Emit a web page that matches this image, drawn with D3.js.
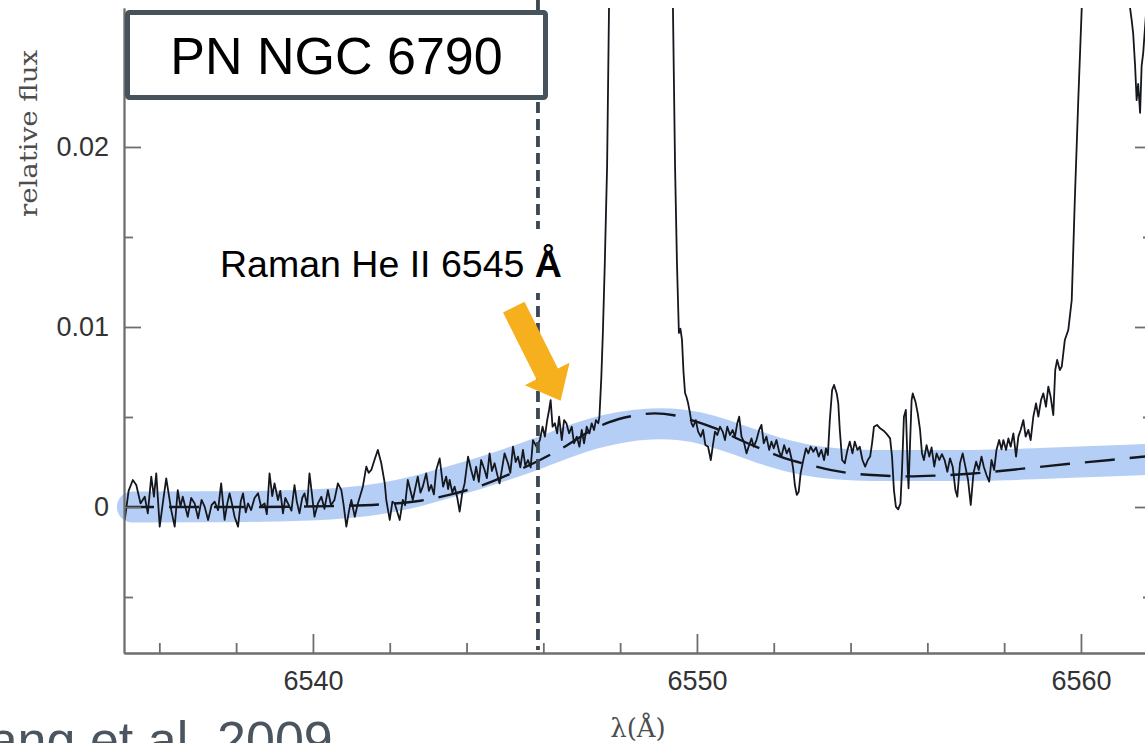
<!DOCTYPE html>
<html>
<head>
<meta charset="utf-8">
<script src="https://cdn.jsdelivr.net/npm/d3@7"></script>
<style>
  html, body { margin: 0; padding: 0; background: #fff; overflow: hidden; }
  svg { display: block; }
</style>
</head>
<body>
<svg id="chart" width="1145" height="743"></svg>
<script>
// ---- data: wavelength in Å, flux in units of 1e-3 (relative) ----
const specLambda = [
  6535.10,6535.20,6535.31,6535.40,6535.51,6535.62,6535.70,6535.79,6535.86,6535.92,
  6536.01,6536.09,6536.18,6536.31,6536.40,6536.48,6536.55,6536.61,6536.74,6536.83,
  6536.92,6537.01,6537.10,6537.18,6537.27,6537.36,6537.44,6537.53,6537.61,6537.70,
  6537.77,6537.83,6537.90,6537.96,6538.05,6538.12,6538.18,6538.25,6538.31,6538.39,
  6538.48,6538.57,6538.65,6538.74,6538.80,6538.87,6538.94,6539.00,6539.09,6539.15,
  6539.22,6539.28,6539.35,6539.44,6539.52,6539.58,6539.65,6539.72,6539.78,6539.85,
  6539.91,6539.98,6540.04,6540.13,6540.22,6540.30,6540.39,6540.47,6540.56,6540.65,
  6540.74,6540.80,6540.87,6540.94,6541.00,6541.09,6541.17,6541.30,6541.39,6541.45,
  6541.52,6541.60,6541.69,6541.78,6541.87,6541.91,6542.00,6542.07,6542.13,6542.20,
  6542.26,6542.34,6542.40,6542.47,6542.54,6542.60,6542.67,6542.73,6542.80,6542.86,
  6542.95,6543.02,6543.08,6543.15,6543.21,6543.30,6543.39,6543.47,6543.52,6543.56,
  6543.63,6543.69,6543.76,6543.82,6543.89,6543.95,6544.04,6544.12,6544.19,6544.25,
  6544.32,6544.38,6544.47,6544.53,6544.60,6544.66,6544.73,6544.80,6544.86,6544.93,
  6544.99,6545.08,6545.14,6545.21,6545.28,6545.34,6545.40,6545.47,6545.53,6545.60,
  6545.67,6545.73,6545.82,6545.91,6545.98,6546.04,6546.10,6546.15,6546.19,6546.24,
  6546.30,6546.36,6546.41,6546.48,6546.54,6546.60,6546.67,6546.74,6546.80,6546.87,
  6546.94,6547.00,6547.06,6547.13,6547.20,6547.26,6547.32,6547.37,6547.43,6547.46,
  6547.51,6547.55,6547.60,6547.66,6547.71,6547.80,6548.55,6549.30,6549.375,6549.43,
  6549.48,6549.53,6549.57,6549.61,6549.65,6549.69,6549.73,6549.77,6549.82,6549.86,
  6549.90,6549.97,6550.03,6550.10,6550.16,6550.22,6550.29,6550.36,6550.41,6550.47,
  6550.53,6550.60,6550.67,6550.73,6550.79,6550.86,6550.93,6550.99,6551.05,6551.10,
  6551.16,6551.22,6551.29,6551.36,6551.42,6551.48,6551.55,6551.62,6551.68,6551.74,
  6551.81,6551.88,6551.94,6552.00,6552.07,6552.14,6552.20,6552.27,6552.34,6552.40,
  6552.47,6552.51,6552.55,6552.60,6552.65,6552.70,6552.77,6552.84,6552.90,6552.96,
  6553.03,6553.10,6553.17,6553.24,6553.31,6553.36,6553.41,6553.46,6553.52,6553.57,
  6553.64,6553.68,6553.72,6553.78,6553.85,6553.92,6553.98,6554.05,6554.11,6554.18,
  6554.24,6554.31,6554.38,6554.45,6554.51,6554.56,6554.61,6554.69,6554.77,6554.86,
  6554.94,6555.03,6555.08,6555.13,6555.18,6555.24,6555.30,6555.34,6555.39,6555.44,
  6555.49,6555.51,6555.55,6555.59,6555.62,6555.69,6555.75,6555.81,6555.86,6555.91,
  6555.98,6556.05,6556.11,6556.18,6556.24,6556.31,6556.38,6556.45,6556.52,6556.59,
  6556.66,6556.73,6556.78,6556.85,6556.92,6556.99,6557.06,6557.13,6557.20,6557.27,
  6557.34,6557.41,6557.47,6557.54,6557.61,6557.67,6557.74,6557.80,6557.87,6557.93,
  6557.98,6558.05,6558.11,6558.17,6558.24,6558.31,6558.37,6558.43,6558.50,6558.56,
  6558.63,6558.69,6558.76,6558.83,6558.89,6558.96,6559.02,6559.09,6559.15,6559.21,
  6559.28,6559.33,6559.38,6559.45,6559.50,6559.58,6559.67,6559.76,6559.84,6559.93,
  6560.02,6560.10,6560.80,6561.20,6561.28,6561.32,6561.36,6561.41,6561.45,6561.49,
  6561.54,6561.58,6561.62,6561.85
];
const specFlux = [
  -0.72,0.90,1.50,1.22,0.20,0.57,-0.35,1.69,0.57,1.87,
  -1.09,0.20,1.59,-0.17,-1.09,0.94,0.02,0.57,-0.54,0.50,
  0.20,-0.63,0.40,0.02,-0.72,0.10,0.30,-0.17,1.31,-0.72,
  0.20,0.76,0.10,-0.54,-1.09,0.30,0.76,-0.30,0.20,-0.17,
  0.50,0.76,0.02,0.20,-0.40,1.87,0.60,1.31,0.39,0.90,
  -0.35,0.50,0.20,-0.20,1.22,0.30,-0.35,0.50,0.76,0.10,
  1.87,0.60,-0.54,0.20,0.57,-0.10,0.94,0.10,0.39,1.31,
  0.94,0.10,-1.09,-0.20,0.39,-0.54,0.20,1.13,2.24,1.90,
  2.06,2.60,3.17,2.43,1.31,0.39,-0.72,0.30,0.20,-0.30,
  -0.72,0.39,0.10,1.50,0.90,0.39,1.10,1.69,0.80,1.13,
  1.87,0.90,1.22,0.70,2.06,2.70,1.13,1.69,1.00,1.50,
  0.80,1.13,0.50,-0.26,0.80,1.31,2.80,2.06,1.50,2.24,
  1.40,2.61,2.06,1.60,2.98,2.00,2.43,1.80,1.31,2.20,
  2.98,2.43,1.90,3.35,2.50,2.80,2.20,3.17,2.30,2.61,
  2.20,3.72,3.35,3.72,4.46,3.91,4.83,5.39,5.94,4.46,
  4.65,4.09,5.02,3.72,4.83,4.65,4.09,4.46,3.54,3.91,
  3.35,4.28,3.54,4.46,4.09,4.65,4.28,4.83,4.65,5.00,
  7.20,9.67,13.50,18.90,27.70,38.00,120.00,38.00,27.70,18.90,
  13.50,9.67,9.90,9.30,7.50,6.33,6.10,5.76,5.20,4.65,
  4.46,4.83,4.19,3.91,4.28,3.44,3.35,2.61,3.35,4.19,
  4.00,4.46,4.19,3.72,4.46,4.00,4.28,3.91,4.65,5.02,
  3.91,3.63,2.98,3.44,3.81,3.35,3.72,4.28,4.56,3.54,
  3.91,3.17,3.63,3.26,3.72,3.07,2.80,3.44,2.98,3.26,
  2.61,2.06,1.22,0.67,0.85,1.87,2.61,3.26,2.98,3.35,
  3.07,3.31,2.80,3.17,2.61,3.26,2.89,4.83,6.50,6.78,
  6.31,5.76,4.28,2.61,2.43,3.17,3.63,2.98,3.63,3.17,
  3.35,2.61,2.24,2.61,2.80,3.54,4.46,4.56,4.37,4.24,
  4.06,3.81,2.80,0.94,0.02,-0.13,0.20,2.06,5.02,5.39,
  2.06,1.04,3.54,5.94,6.31,5.85,5.20,4.28,2.98,2.61,
  3.44,2.80,3.31,2.24,2.98,2.61,2.94,2.61,1.96,2.70,
  2.24,0.94,0.57,2.43,2.98,2.24,1.50,0.11,1.87,2.52,
  2.06,2.80,2.24,1.78,1.41,2.61,2.06,3.17,3.72,3.20,
  3.72,3.17,3.81,3.35,4.09,2.80,3.91,4.28,4.83,3.91,
  4.28,3.72,5.02,5.76,5.02,5.94,6.31,5.57,6.69,6.13,
  5.11,7.61,8.17,7.61,7.80,9.28,9.83,11.50,17.06,22.60,
  27.70,36.00,90.00,36.00,27.70,27.06,26.30,24.50,22.60,23.50,
  21.90,24.50,25.20,32.00
];

// fitted Raman He II profile plus continuum
const modelLambda = [6535.08,6538.0,6540.5,6541.8,6542.8,6543.6,6544.4,6545.2,6545.9,6546.6,
  6547.2,6547.7,6548.3,6548.9,6549.4,6549.9,6550.5,6551.1,6551.7,6552.3,
  6552.9,6553.5,6554.1,6554.8,6555.5,6556.3,6557.1,6557.9,6558.8,6559.7,6560.7,6561.85];
const modelFlux = [0.0,0.0,0.05,0.15,0.35,0.7,1.2,1.9,2.6,3.4,
  4.2,4.7,5.05,5.2,5.1,4.8,4.35,3.75,3.2,2.7,
  2.35,2.05,1.85,1.75,1.7,1.75,1.85,2.0,2.2,2.4,2.6,2.85];

// highlighted broad feature
const bandLambda = [6535.3,6537.0,6539.5,6540.8,6541.8,6542.7,6543.5,6544.3,6545.1,6545.9,
  6546.6,6547.3,6548.0,6548.8,6549.6,6550.3,6551.0,6551.7,6552.4,6553.1,
  6553.9,6554.8,6556.0,6557.5,6558.8,6560.0,6561.85];
const bandFlux = [0.0,0.0,0.05,0.2,0.45,0.85,1.35,1.85,2.4,3.0,
  3.6,4.1,4.45,4.65,4.6,4.3,3.8,3.25,2.8,2.5,
  2.35,2.3,2.3,2.3,2.4,2.5,2.65];

const xMajorTicks = [6540, 6550, 6560];
const xMinorTicks = [6536, 6538, 6542, 6544, 6546, 6548, 6552, 6554, 6556, 6558];
const yMajorTicks = [0, 10, 20];
const yMinorTicks = [-5, 5, 15];
const yTickLabels = ["0", "0.01", "0.02"];

const ramanLambda = 6545.86;          // marked wavelength
const arrowTail = [6545.23, 11.1];    // [λ, flux]
const arrowTip  = [6546.45, 5.9];

const titleText = "PN NGC 6790";
const lineLabel = "Raman He II 6545 ";
const creditText = "Kang et al. 2009";

// ---- layout ----
const svg = d3.select("#chart");
const plot = { left: 124, right: 1152, top: 8, bottom: 653 };

const x = d3.scaleLinear().domain([6535.08, 6561.85]).range([plot.left, plot.right]);
const y = d3.scaleLinear().domain([-8.11, 27.72]).range([plot.bottom, plot.top]);

svg.append("defs").append("clipPath").attr("id", "plotClip")
  .append("rect")
  .attr("x", plot.left).attr("y", plot.top)
  .attr("width", plot.right - plot.left).attr("height", plot.bottom - plot.top);

// broad highlighted band
svg.append("path")
  .datum(d3.zip(bandLambda, bandFlux))
  .attr("d", d3.line().x(d => x(d[0])).y(d => y(d[1])).curve(d3.curveBasis))
  .attr("fill", "none")
  .attr("stroke", "rgb(120,166,236)")
  .attr("stroke-opacity", 0.55)
  .attr("stroke-width", 31)
  .attr("stroke-linecap", "round");

const inner = svg.append("g").attr("clip-path", "url(#plotClip)");

// observed spectrum
inner.append("path")
  .datum(d3.zip(specLambda, specFlux))
  .attr("d", d3.line().x(d => x(d[0])).y(d => y(d[1])).curve(d3.curveLinear))
  .attr("fill", "none")
  .attr("stroke", "#15171f")
  .attr("stroke-width", 1.8)
  .attr("stroke-linejoin", "round");

// model (long dashes)
inner.append("path")
  .datum(d3.zip(modelLambda, modelFlux))
  .attr("d", d3.line().x(d => x(d[0])).y(d => y(d[1])).curve(d3.curveMonotoneX))
  .attr("fill", "none")
  .attr("stroke", "#15171f")
  .attr("stroke-width", 2.4)
  .attr("stroke-dasharray", "30,15");

// ---- axes ----
const axisColor = "#6e6e6e";
function styleAxis(g) {
  g.selectAll("path.domain").attr("stroke", axisColor).attr("stroke-width", 1.8);
  g.selectAll(".tick line").attr("stroke", axisColor).attr("stroke-width", 1.8);
  g.selectAll(".tick text")
    .attr("fill", "#333")
    .style("font-family", "'Liberation Sans', Arial, Helvetica, sans-serif")
    .style("font-size", "27px");
}

svg.append("g").attr("transform", `translate(${plot.left},0)`)
  .call(d3.axisLeft(y).tickValues(yMajorTicks).tickSize(-17).tickSizeOuter(0).tickPadding(15)
    .tickFormat((d, i) => yTickLabels[i]))
  .call(styleAxis);
svg.append("g").attr("transform", `translate(${plot.left},0)`)
  .call(d3.axisLeft(y).tickValues(yMinorTicks).tickSize(-9).tickSizeOuter(0).tickFormat(""))
  .call(styleAxis);

svg.append("g").attr("transform", `translate(${plot.right},0)`)
  .call(d3.axisRight(y).tickValues(yMajorTicks).tickSize(-17).tickSizeOuter(0).tickFormat(""))
  .call(styleAxis);
svg.append("g").attr("transform", `translate(${plot.right},0)`)
  .call(d3.axisRight(y).tickValues(yMinorTicks).tickSize(-9).tickSizeOuter(0).tickFormat(""))
  .call(styleAxis);

svg.append("g").attr("transform", `translate(0,${plot.bottom})`)
  .call(d3.axisBottom(x).tickValues(xMajorTicks).tickSize(-19).tickSizeOuter(0).tickPadding(18)
    .tickFormat(d3.format("d")))
  .call(styleAxis);
svg.append("g").attr("transform", `translate(0,${plot.bottom})`)
  .call(d3.axisBottom(x).tickValues(xMinorTicks).tickSize(-10).tickSizeOuter(0).tickFormat(""))
  .call(styleAxis);

// axis titles
svg.append("text")
  .attr("transform", `translate(37,${(50 + 217) / 2}) rotate(-90)`)
  .attr("text-anchor", "middle")
  .attr("textLength", 167).attr("lengthAdjust", "spacingAndGlyphs")
  .style("font-family", "'DejaVu Serif', 'Liberation Serif', serif")
  .style("font-size", "25px")
  .attr("fill", "#4d4d4d")
  .text("relative flux");

svg.append("text")
  .attr("x", 638).attr("y", 737)
  .attr("text-anchor", "middle")
  .style("font-family", "'DejaVu Serif', 'Liberation Serif', serif")
  .style("font-size", "26px")
  .attr("fill", "#4d4d4d")
  .text("λ(Å)");

// ---- annotations ----
// marked wavelength
svg.append("line")
  .attr("x1", x(ramanLambda)).attr("x2", x(ramanLambda))
  .attr("y1", 0).attr("y2", plot.bottom - 3)
  .attr("stroke", "#3b4752")
  .attr("stroke-width", 3.8)
  .attr("stroke-dasharray", "11,6");

// label with white backing
svg.append("rect")
  .attr("x", 202).attr("y", 229).attr("width", 366).attr("height", 64)
  .attr("fill", "#fff");
const lab = svg.append("text")
  .attr("x", 220).attr("y", 277)
  .style("font-family", "'Liberation Sans', Arial, Helvetica, sans-serif")
  .style("font-size", "37.5px")
  .attr("fill", "#000");
lab.append("tspan").text(lineLabel);
lab.append("tspan").style("font-weight", "bold").text("Å");

// title box
svg.append("rect")
  .attr("x", 127.5).attr("y", 12.5).attr("width", 418).attr("height", 85)
  .attr("rx", 2)
  .attr("fill", "#fff")
  .attr("stroke", "#46525c")
  .attr("stroke-width", 5);
svg.append("text")
  .attr("x", 336.5).attr("y", 74)
  .attr("text-anchor", "middle")
  .style("font-family", "'Liberation Sans', Arial, Helvetica, sans-serif")
  .style("font-size", "52px")
  .attr("fill", "#000")
  .text(titleText);

// arrow
(function drawArrow() {
  const tx = x(arrowTail[0]), ty = y(arrowTail[1]);
  const hx = x(arrowTip[0]), hy = y(arrowTip[1]);
  const len = Math.hypot(hx - tx, hy - ty);
  const ux = (hx - tx) / len, uy = (hy - ty) / len;
  const px = -uy, py = ux;
  const shaftW = 12, headW = 25, headL = 30;
  const bx = hx - ux * headL, by = hy - uy * headL;
  const pts = [
    [tx + px * shaftW, ty + py * shaftW],
    [bx + px * shaftW, by + py * shaftW],
    [bx + px * headW, by + py * headW],
    [hx, hy],
    [bx - px * headW, by - py * headW],
    [bx - px * shaftW, by - py * shaftW],
    [tx - px * shaftW, ty - py * shaftW]
  ];
  svg.append("polygon")
    .attr("points", pts.map(p => p.join(",")).join(" "))
    .attr("fill", "#f6b01e");
})();

// credit line (runs off the lower edge of the page)
svg.append("text")
  .attr("x", -46).attr("y", 758)
  .style("font-family", "'Liberation Sans', Roboto, Arial, sans-serif")
  .style("font-weight", "300")
  .style("font-size", "52px")
  .attr("fill", "#4a5560")
  .text(creditText);
</script>
</body>
</html>
